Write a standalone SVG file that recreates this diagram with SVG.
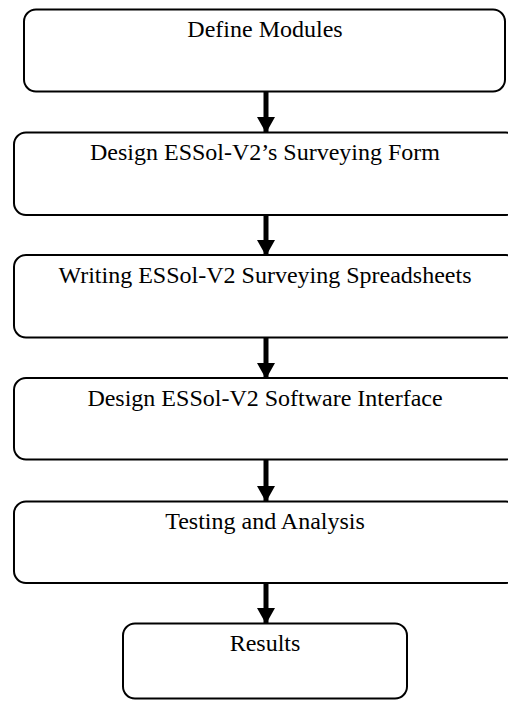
<svg xmlns="http://www.w3.org/2000/svg" width="508" height="703" viewBox="0 0 508 703">
<style>
.box{fill:#fff;stroke:#000;stroke-width:2}
.lbl{font-family:"Liberation Serif","Times New Roman",serif;font-size:24px;fill:#000;text-anchor:middle}
.arr{stroke:#000;stroke-width:5;fill:none}
</style>
<defs>
<marker id="ah" markerUnits="userSpaceOnUse" markerWidth="16" markerHeight="18" refX="15" refY="9" orient="auto" viewBox="0 0 16 18">
<path d="M0,0 L16,9 L0,18 Z" fill="#000"/>
</marker>
</defs>
<g id="n1"><rect class="box" x="24" y="9.5" width="481" height="82" rx="12"/><text class="lbl" x="265" y="37">Define Modules</text></g>
<g id="n2"><rect class="box" x="14" y="132.5" width="504" height="82.5" rx="12"/><text class="lbl" x="265" y="160">Design ESSol-V2’s Surveying Form</text></g>
<g id="n3"><rect class="box" x="14" y="255" width="504" height="82.5" rx="12"/><text class="lbl" x="265" y="283">Writing ESSol-V2 Surveying Spreadsheets</text></g>
<g id="n4"><rect class="box" x="14" y="378" width="504" height="81.5" rx="12"/><text class="lbl" x="265" y="406">Design ESSol-V2 Software Interface</text></g>
<g id="n5"><rect class="box" x="14" y="501.5" width="504" height="81.5" rx="12"/><text class="lbl" x="265" y="529">Testing and Analysis</text></g>
<g id="n6"><rect class="box" x="123" y="623.5" width="284" height="75" rx="12"/><text class="lbl" x="265" y="651">Results</text></g>
<g id="connectors">
<line class="arr" x1="266" y1="92" x2="266" y2="132" marker-end="url(#ah)"/>
<line class="arr" x1="266" y1="216" x2="266" y2="255" marker-end="url(#ah)"/>
<line class="arr" x1="266" y1="338" x2="266" y2="378" marker-end="url(#ah)"/>
<line class="arr" x1="266" y1="460" x2="266" y2="501" marker-end="url(#ah)"/>
<line class="arr" x1="266" y1="584" x2="266" y2="623" marker-end="url(#ah)"/>
</g>
</svg>
